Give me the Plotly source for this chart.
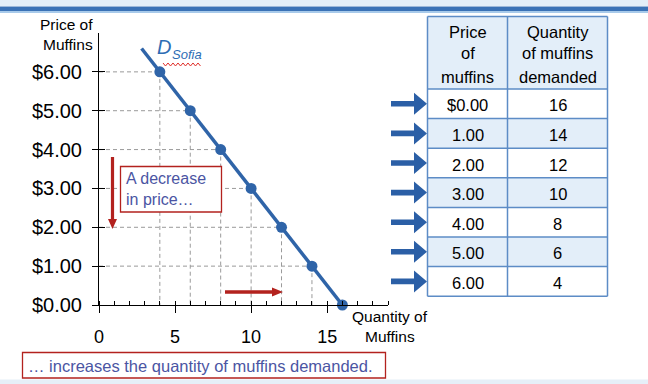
import plotly.graph_objects as go

# ---------------- data ----------------
prices = [0, 1, 2, 3, 4, 5, 6]
quantities = [16, 14, 12, 10, 8, 6, 4]
price_labels = ["$0.00", "1.00", "2.00", "3.00", "4.00", "5.00", "6.00"]
qty_labels = ["16", "14", "12", "10", "8", "6", "4"]
header_price = ["Price", "of", "muffins"]
header_qty = ["Quantity", "of muffins", "demanded"]
y_tick_vals = [0, 1, 2, 3, 4, 5, 6]
y_tick_text = ["$0.00", "$1.00", "$2.00", "$3.00", "$4.00", "$5.00", "$6.00"]
x_tick_vals = [0, 5, 10, 15]
y_title_lines = ["Price of", "Muffins"]
x_title_lines = ["Quantity of", "Muffins"]
line_top_price = 6.6   # demand line drawn a bit beyond the $6 point

W, H = 648, 384
FONT = "Liberation Sans, Arial, sans-serif"
BLUE = "#2f64a8"
RED = "#b3221e"
TXT_BLUE = "#4b55a3"
CELL_BLUE = "#e3eef9"
GRID_BLUE = "#5d8cc6"

def px(x):
    return x / W

def py(y):
    return 1 - y / H

fig = go.Figure()

# dashed guide lines
gx, gy = [], []
for q, p in zip(quantities, prices):
    if p == 0:
        continue
    gx += [0, q, None, q, q, None]
    gy += [p, p, None, p, 0, None]
fig.add_trace(go.Scatter(x=gx, y=gy, mode="lines",
                         line=dict(color="#9a9a9a", width=1, dash="4px,3px"),
                         hoverinfo="skip", showlegend=False))

# demand line (extended slightly above top point using slope from data)
slope = (quantities[-1] - quantities[0]) / (prices[-1] - prices[0])
q_top = quantities[-1] + slope * (line_top_price - prices[-1])
fig.add_trace(go.Scatter(x=[q_top] + quantities[::-1], y=[line_top_price] + prices[::-1],
                         mode="lines", line=dict(color=BLUE, width=3.5),
                         hoverinfo="skip", showlegend=False, cliponaxis=False))
fig.add_trace(go.Scatter(x=quantities, y=prices, mode="markers",
                         marker=dict(color=BLUE, size=11),
                         hoverinfo="skip", showlegend=False, cliponaxis=False))

# invisible trace to create overlay axis for crossing ticks
fig.add_trace(go.Scatter(x=[None], y=[None], xaxis="x2", yaxis="y2", showlegend=False))

x_dom = [px(99), px(388)]
y_dom = [py(305), py(33)]

fig.update_layout(
    width=W, height=H, autosize=False,
    margin=dict(l=0, r=0, t=0, b=0, autoexpand=False),
    paper_bgcolor="white", plot_bgcolor="white",
    font=dict(family=FONT, color="black"),
    xaxis=dict(domain=x_dom, range=[0, 19], showgrid=False, zeroline=False, automargin=False,
               showline=True, linecolor="black", linewidth=1,
               tickvals=x_tick_vals, ticks="outside", ticklen=7, tickcolor="black",
               ticklabelstandoff=8,
               tickfont=dict(size=18, family=FONT, color="black"),
               minor=dict(ticks="inside", ticklen=4, dtick=1, tick0=0, tickcolor="black",
                          showgrid=False)),
    yaxis=dict(domain=y_dom, range=[0, 7], showgrid=False, zeroline=False, automargin=False,
               showline=True, linecolor="black", linewidth=1,
               tickvals=y_tick_vals, ticktext=y_tick_text,
               ticks="outside", ticklen=6, tickcolor="black",
               ticklabelstandoff=6,
               tickfont=dict(size=20, family=FONT, color="black")),
    xaxis2=dict(domain=x_dom, range=[0, 19], overlaying="x", showgrid=False, zeroline=False,
                automargin=False, showline=False, tickvals=x_tick_vals, ticks="inside",
                ticklen=3, tickcolor="black", showticklabels=False),
    yaxis2=dict(domain=y_dom, range=[0, 7], overlaying="y", showgrid=False, zeroline=False,
                automargin=False, showline=False, tickvals=y_tick_vals, ticks="inside",
                ticklen=6, tickcolor="black", showticklabels=False),
)

shapes = []
ann = []

# top / bottom decorative bands
shapes.append(dict(type="rect", xref="paper", yref="paper", x0=0, x1=1, y0=py(6), y1=1,
                   fillcolor="#e3eef8", line=dict(width=0), layer="below"))
shapes.append(dict(type="rect", xref="paper", yref="paper", x0=0, x1=1, y0=py(11), y1=py(6.5),
                   fillcolor="#3a72b6", line=dict(width=0)))
shapes.append(dict(type="rect", xref="paper", yref="paper", x0=0, x1=1, y0=py(13), y1=py(11),
                   fillcolor="#a8caea", line=dict(width=0)))
shapes.append(dict(type="rect", xref="paper", yref="paper", x0=0, x1=1, y0=0, y1=py(379.5),
                   fillcolor="#e6eff8", line=dict(width=0)))

# ---------------- table (drawn from the data lists) ----------------
tbl_left, tbl_mid, tbl_right, tbl_top = 427.5, 507.5, 607.5, 16.5
head_h = 72.5
row_h = 29.6
n = len(prices)
tbl_bottom = tbl_top + head_h + row_h * n
col_centers = [(tbl_left + tbl_mid) / 2, (tbl_mid + tbl_right) / 2]
TFONT = dict(size=16.5, family=FONT, color="black")

def rect_px(x0, y0, x1, y1, fill):
    return dict(type="rect", xref="paper", yref="paper", x0=px(x0), x1=px(x1),
                y0=py(y1), y1=py(y0), fillcolor=fill, line=dict(width=0), layer="below")

shapes.append(rect_px(tbl_left, tbl_top, tbl_right, tbl_top + head_h, CELL_BLUE))
for i in range(n):
    y0 = tbl_top + head_h + row_h * i
    fill = "white" if i % 2 == 0 else CELL_BLUE
    shapes.append(rect_px(tbl_left, y0, tbl_right, y0 + row_h, fill))

def hline(x0, x1, y):
    return dict(type="line", xref="paper", yref="paper", x0=px(x0), x1=px(x1),
                y0=py(y), y1=py(y), line=dict(color=GRID_BLUE, width=1.5))

def vline(x, y0, y1):
    return dict(type="line", xref="paper", yref="paper", x0=px(x), x1=px(x),
                y0=py(y0), y1=py(y1), line=dict(color=GRID_BLUE, width=1.5))

shapes.append(hline(tbl_left, tbl_right, tbl_top))
shapes.append(hline(tbl_left, tbl_right, tbl_top + head_h))
for i in range(1, n + 1):
    shapes.append(hline(tbl_left, tbl_right, tbl_top + head_h + row_h * i))
for xv in [tbl_left, tbl_mid, tbl_right]:
    shapes.append(vline(xv, tbl_top, tbl_bottom))

header_line_y = [31.5, 53, 76.5]
for col, lines in enumerate([header_price, header_qty]):
    for j, t in enumerate(lines):
        ann.append(dict(xref="paper", yref="paper", x=px(col_centers[col]), y=py(header_line_y[j]),
                        xanchor="center", yanchor="middle", text=t, showarrow=False,
                        font=TFONT))
for i in range(n):
    yc = tbl_top + head_h + row_h * i + row_h / 2 + 1.5
    for col, vals in enumerate([price_labels, qty_labels]):
        ann.append(dict(xref="paper", yref="paper", x=px(col_centers[col]), y=py(yc),
                        xanchor="center", yanchor="middle", text=vals[i], showarrow=False,
                        font=TFONT))

def arrow_right(x0, x1, yc, half_shaft, head_len, half_head, color):
    xs = x1 - head_len
    pts = [(x0, yc - half_shaft), (xs, yc - half_shaft), (xs, yc - half_head), (x1, yc),
           (xs, yc + half_head), (xs, yc + half_shaft), (x0, yc + half_shaft)]
    d = "M " + " L ".join(f"{px(a):.5f},{py(b):.5f}" for a, b in pts) + " Z"
    return dict(type="path", xref="paper", yref="paper", path=d,
                fillcolor=color, line=dict(width=0))

def arrow_down(xc, y0, y1, half_shaft, head_len, half_head, color):
    ys = y1 - head_len
    pts = [(xc - half_shaft, y0), (xc - half_shaft, ys), (xc - half_head, ys), (xc, y1),
           (xc + half_head, ys), (xc + half_shaft, ys), (xc + half_shaft, y0)]
    d = "M " + " L ".join(f"{px(a):.5f},{py(b):.5f}" for a, b in pts) + " Z"
    return dict(type="path", xref="paper", yref="paper", path=d,
                fillcolor=color, line=dict(width=0))

# blue arrows pointing to table rows
for i in range(n):
    yc = tbl_top + head_h + row_h * i + row_h / 2
    shapes.append(arrow_right(391, 427, yc, 2.8, 13, 11, "#2b5fa6"))

# red arrows
shapes.append(arrow_down(112.5, 157, 229, 1.6, 10, 4.5, RED))
shapes.append(arrow_right(225, 283, 292, 1.7, 11, 4.5, RED))

# annotation boxes
shapes.append(dict(type="rect", xref="paper", yref="paper", x0=px(120.5), x1=px(221.5),
                   y0=py(212), y1=py(166.5), line=dict(color=RED, width=1.3),
                   fillcolor="white"))
shapes.append(dict(type="rect", xref="paper", yref="paper", x0=px(22.5), x1=px(385.5),
                   y0=py(378), y1=py(352.5), line=dict(color=RED, width=1.3),
                   fillcolor="white"))

# wavy red underline under "Sofia"
wx, wy = [], []
xx = 163.0
k = 0
while xx <= 202:
    wx.append(xx)
    wy.append(63 if k % 2 == 0 else 66)
    xx += 2.5
    k += 1
d = "M " + " L ".join(f"{px(a):.5f},{py(b):.5f}" for a, b in zip(wx, wy))
shapes.append(dict(type="path", xref="paper", yref="paper", path=d,
                   line=dict(color="#e0302a", width=1)))

fig.update_layout(shapes=shapes)

AXT = dict(size=15.5, family=FONT, color="black")
for t, yc in zip(y_title_lines, [24.5, 44.5]):
    ann.append(dict(xref="paper", yref="paper", x=px(95), y=py(yc), xanchor="right",
                    yanchor="middle", text=t, showarrow=False, font=AXT))
for t, yc in zip(x_title_lines, [316.5, 336.5]):
    ann.append(dict(xref="paper", yref="paper", x=px(390), y=py(yc), xanchor="center",
                    yanchor="middle", text=t, showarrow=False, font=AXT))
ann.append(dict(xref="paper", yref="paper", x=px(155), y=py(60), xanchor="left", yanchor="bottom",
                text="<i>D</i>", showarrow=False,
                font=dict(size=20, family=FONT, color="#2e6db4")))
ann.append(dict(xref="paper", yref="paper", x=px(170), y=py(64), xanchor="left", yanchor="bottom",
                text="<i>Sofia</i>", showarrow=False,
                font=dict(size=13, family=FONT, color="#2e6db4")))
ann.append(dict(xref="paper", yref="paper", x=px(124), y=py(189.5), xanchor="left", yanchor="middle",
                text="A decrease<br>in price…", showarrow=False, align="left",
                font=dict(size=16, family=FONT, color=TXT_BLUE)))
ann.append(dict(xref="paper", yref="paper", x=px(200), y=py(365.5), xanchor="center", yanchor="middle",
                text="… increases the quantity of muffins demanded.", showarrow=False,
                font=dict(size=16.5, family=FONT, color=TXT_BLUE)))
fig.update_layout(annotations=ann)

fig.write_html("out.html", config={"displayModeBar": False},
               post_script="document.body.style.margin='0';document.body.style.overflow='hidden';")
